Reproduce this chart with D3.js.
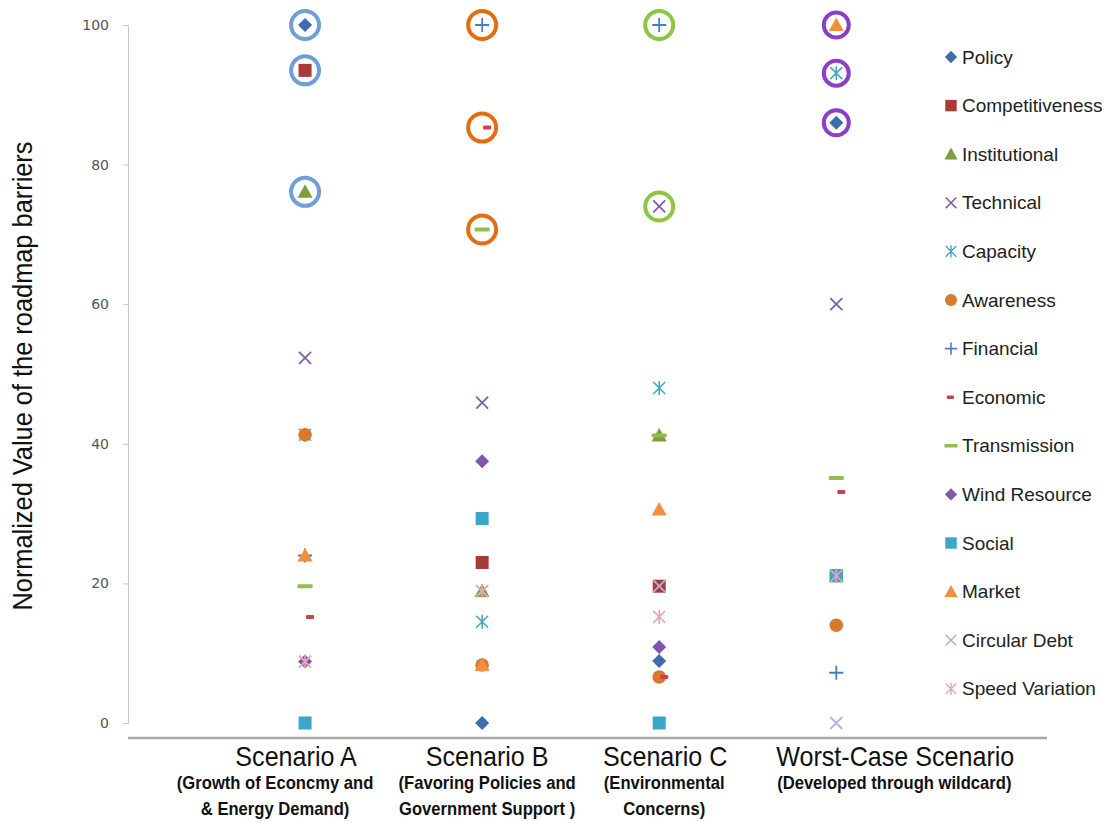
<!DOCTYPE html>
<html>
<head>
<meta charset="utf-8">
<script src="https://cdn.jsdelivr.net/npm/d3@7"></script>
<style>
  html, body { margin: 0; padding: 0; background: #fff; }
  svg { display: block; }
</style>
</head>
<body>
<svg id="chart" width="1115" height="823"></svg>
<script>
const categories = ["Scenario A", "Scenario B", "Scenario C", "Worst-Case Scenario"];
const subLabels = [
  ["(Growth of Econcmy and", "& Energy Demand)"],
  ["(Favoring Policies and", "Government Support )"],
  ["(Environmental", "Concerns)"],
  ["(Developed through wildcard)"]
];
const yTicks = [0, 20, 40, 60, 80, 100];
const seriesNames = ["Policy", "Competitiveness", "Institutional", "Technical", "Capacity", "Awareness",
  "Financial", "Economic", "Transmission", "Wind Resource", "Social", "Market", "Circular Debt", "Speed Variation"];
// values per series for [Scenario A, Scenario B, Scenario C, Worst-Case]
const policy          = [100, 0, 8.9, 86];
const competitiveness = [93.5, 23, 19.6, 21.1];
const institutional   = [76.1, 18.9, 41.2, 21.1];
const technical       = [52.3, 45.9, 74, 60];
const capacity        = [41.3, 14.5, 48, 93.1];
const awareness       = [41.3, 8.3, 6.6, 14];
const financial       = [24, 100, 100, 7.2];
const economic        = [15.2, 85.3, 6.6, 33.1];
const transmission    = [19.6, 70.7, 41.2, 35.1];
const windResource    = [8.8, 37.5, 10.9, 21.1];
const social          = [0, 29.3, 0, 21.1];
const market          = [24, 8.3, 30.6, 100];
const circularDebt    = [8.8, 18.9, 19.6, 0];
const speedVariation  = [8.8, 18.9, 15.2, 21.1];
const seriesValues = [policy, competitiveness, institutional, technical, capacity, awareness,
  financial, economic, transmission, windResource, social, market, circularDebt, speedVariation];
// highlighted (ringed) barriers per scenario
const ringCategory = [0, 0, 0, 1, 1, 1, 2, 2, 3, 3, 3];
const ringValue    = [100, 93.5, 76.1, 100, 85.3, 70.7, 100, 74, 100, 93.1, 86];

const markerStyle = {
  "Policy":          {shape: "diamond",  color: "#3D6DAE"},
  "Competitiveness": {shape: "square",   color: "#A93A3A"},
  "Institutional":   {shape: "triangle", color: "#7C9E3E"},
  "Technical":       {shape: "x",        color: "#7E60A8"},
  "Capacity":        {shape: "asterisk", color: "#4AA6C4"},
  "Awareness":       {shape: "circle",   color: "#D9782F"},
  "Financial":       {shape: "plus",     color: "#4A7CC0"},
  "Economic":        {shape: "dashS",    color: "#C8424A"},
  "Transmission":    {shape: "dashL",    color: "#92BE4E"},
  "Wind Resource":   {shape: "diamond",  color: "#7D58AE"},
  "Social":          {shape: "square",   color: "#3CA6C9"},
  "Market":          {shape: "triangle", color: "#F58E3C"},
  "Circular Debt":   {shape: "x",        color: "#B9B0D8"},
  "Speed Variation": {shape: "asterisk", color: "#E2A9B4"}
};
const ringColors = ["#6E9FD6", "#E66C12", "#8DC63F", "#8B3FC6"];

const svg = d3.select("#chart");
const x = d3.scaleLinear().domain([0, 5.19]).range([128, 1047]);
const y = d3.scaleLinear().domain([0, 100]).range([723, 25]);
const font = "'Liberation Sans', Arial, sans-serif";

function drawMarker(g, shape, color) {
  switch (shape) {
    case "diamond":
      g.append("path").attr("d", "M0,-7 L7,0 L0,7 L-7,0Z").attr("fill", color); break;
    case "square":
      g.append("rect").attr("x", -6.5).attr("y", -6.5).attr("width", 13).attr("height", 13).attr("fill", color); break;
    case "triangle":
      g.append("path").attr("d", "M0,-7.5 L7.5,6 L-7.5,6Z").attr("fill", color); break;
    case "circle":
      g.append("circle").attr("r", 6.8).attr("fill", color); break;
    case "x":
      g.append("path").attr("d", "M-6,-6 L6,6 M-6,6 L6,-6").attr("stroke", color).attr("stroke-width", 1.8).attr("fill", "none"); break;
    case "plus":
      g.append("path").attr("d", "M-7,0 L7,0 M0,-7 L0,7").attr("stroke", color).attr("stroke-width", 1.8).attr("fill", "none"); break;
    case "asterisk":
      g.append("path").attr("d", "M-6,-6 L6,6 M-6,6 L6,-6 M0,-7 L0,7").attr("stroke", color).attr("stroke-width", 1.6).attr("fill", "none"); break;
    case "dashS":
      g.append("rect").attr("x", 1).attr("y", -2).attr("width", 8).attr("height", 4).attr("rx", 1).attr("fill", color); break;
    case "dashL":
      g.append("rect").attr("x", -7.5).attr("y", -2).attr("width", 15).attr("height", 4).attr("rx", 1).attr("fill", color); break;
  }
}

// Y axis
const yAxis = d3.axisLeft(y).tickValues(yTicks).tickSize(5).tickPadding(14);
const gy = svg.append("g").attr("transform", "translate(128,0)").call(yAxis);
gy.select(".domain").attr("stroke", "#C8C8C8");
gy.selectAll(".tick line").attr("stroke", "#C8C8C8");
gy.selectAll(".tick text").attr("font-family", "DejaVu Sans").attr("font-size", 14).attr("fill", "#555");

// X axis line
svg.append("line").attr("x1", 128).attr("x2", 1047).attr("y1", 738).attr("y2", 738)
  .attr("stroke", "#A9A9A9").attr("stroke-width", 2.5);

// Y title
svg.append("text").attr("transform", "translate(32,376) rotate(-90) scale(0.94,1)")
  .attr("text-anchor", "middle").attr("font-family", font).attr("font-size", 27)
  .attr("fill", "#111").text("Normalized Value of the roadmap barriers");

// Category labels (label offsets follow the original layout)
const titleShift = [-9, 5, 6, 59];
const subShift = [-30, 5, 5, 58];
categories.forEach((c, i) => {
  const cx = x(i + 1);
  svg.append("text").attr("transform", `translate(${cx + titleShift[i]},766) scale(0.93,1)`)
    .attr("text-anchor", "middle").attr("font-family", font).attr("font-size", 27)
    .attr("fill", "#111").text(c);
  subLabels[i].forEach((s, j) => {
    svg.append("text").attr("transform", `translate(${cx + subShift[i]},${789 + j * 26}) scale(0.95,1)`)
      .attr("text-anchor", "middle").attr("font-family", font).attr("font-weight", "bold")
      .attr("font-size", 17.5).attr("fill", "#111").text(s);
  });
});

// Rings
ringCategory.forEach((ci, k) => {
  svg.append("circle").attr("cx", x(ci + 1)).attr("cy", y(ringValue[k]))
    .attr("r", ci === 3 ? 12.5 : 14).attr("fill", "#fff")
    .attr("stroke", ringColors[ci]).attr("stroke-width", 4);
});

// Markers
seriesNames.forEach((name, si) => {
  const st = markerStyle[name];
  seriesValues[si].forEach((v, ci) => {
    const g = svg.append("g").attr("transform", `translate(${x(ci + 1)},${y(v)})`);
    drawMarker(g, st.shape, st.color);
  });
});

// Legend
seriesNames.forEach((name, i) => {
  const ly = 57 + i * 48.6;
  const st = markerStyle[name];
  const g = svg.append("g").attr("transform", `translate(951,${ly})`);
  const mg = g.append("g").attr("transform", st.shape === "dashS" ? "translate(-5,0) scale(0.88)" : "scale(0.88)");
  drawMarker(mg, st.shape, st.color);
  g.append("text").attr("x", 11).attr("y", 6.5).attr("font-family", font)
    .attr("font-size", 19).attr("fill", "#222").text(name);
});
</script>
</body>
</html>
